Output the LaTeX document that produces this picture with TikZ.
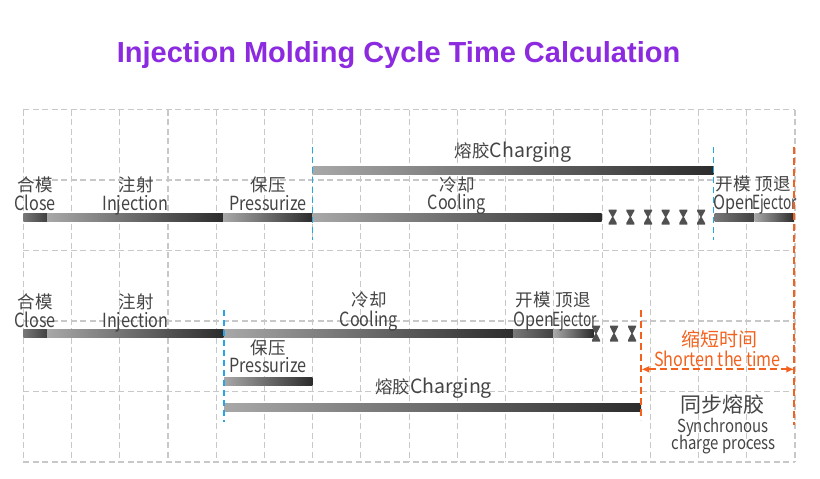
\documentclass[tikz,border=0pt]{standalone}
\usepackage{fontspec}
\setmainfont{Noto Sans CJK SC}
\newfontfamily\cjk{Noto Sans CJK SC}
\newfontfamily\labelfont[FakeStretch=0.83]{Noto Sans CJK SC}
\newfontfamily\tightfont[FakeStretch=0.7]{Noto Sans CJK SC}
\newfontfamily\titlefont{Liberation Sans}
\usetikzlibrary{arrows.meta,positioning}

\definecolor{titlepurple}{RGB}{140,42,224}
\definecolor{gridgray}{RGB}{200,200,200}
\definecolor{labelgray}{RGB}{68,68,68}
\definecolor{markblue}{RGB}{38,166,226}
\definecolor{markorange}{RGB}{242,98,30}
\definecolor{barlight}{RGB}{168,168,168}
\definecolor{bardark}{RGB}{44,44,44}
\definecolor{barmid}{RGB}{120,120,120}
\definecolor{hourgray}{RGB}{80,80,80}

\tikzset{
  gridline/.style={gridgray, line width=1.1pt, dash pattern=on 6pt off 3.5pt},
  stage/.style={left color=barlight, right color=bardark},
  shortstage/.style={left color=barmid, right color=bardark!90},
  bluemark/.style={markblue, line width=1.6pt, dash pattern=on 6pt off 4pt},
  orangemark/.style={markorange, line width=2pt, dash pattern=on 7pt off 4pt},
  zh/.style={font=\cjk\fontsize{17.5}{17.5}\selectfont, text=labelgray, inner sep=0pt, anchor=base},
  en/.style={font=\labelfont\fontsize{19.5}{19.5}\selectfont, text=labelgray, inner sep=0pt, anchor=base},
  entight/.style={en, font=\tightfont\fontsize{19.5}{19.5}\selectfont},
  hourglass/.style={fill=hourgray}
}

\begin{document}
\begin{tikzpicture}[x=1pt,y=-1pt]
  \useasboundingbox (0,0) rectangle (820,479);

  % title
  \node[font=\titlefont\bfseries\fontsize{29}{29}\selectfont, text=titlepurple, anchor=base]
    (title) at (398.5,62.7) {Injection Molding Cycle Time Calculation};

  % dashed grid
  \foreach \i in {0,...,16}
    \draw[gridline] (23.3+48.23*\i,109.5) -- (23.3+48.23*\i,462);
  \foreach \j in {0,...,5}
    \draw[gridline] (23.3,109.5+70.5*\j) -- (795,109.5+70.5*\j);

  % --- conventional cycle ---
  \shade[shortstage] (23.3,213) rectangle (47,221);
  \shade[stage] (47,213) rectangle (223.3,221);
  \shade[stage] (223.3,213) rectangle (312.5,221);
  \shade[stage] (312.5,213) rectangle (601.7,221);
  \shade[stage] (312.5,166.5) rectangle (713.5,174.5);
  \shade[shortstage] (714.5,213) rectangle (754,221);
  \shade[stage] (754.5,213) rectangle (794,221);
  \foreach \hx in {612.7,630.3,648,665.7,683.3,701}
    \fill[hourglass] (\hx-4,209.5) -- (\hx+4,209.5) -- (\hx+4,211) -- (\hx+0.6,217)
      -- (\hx+4,223) -- (\hx+4,224.5) -- (\hx-4,224.5) -- (\hx-4,223)
      -- (\hx-0.6,217) -- (\hx-4,211) -- cycle;

  \node[zh] (close1zh) at (35,191.5) {合模};
  \node[en] (close1) at (35,210) {Close};
  \node[zh] (inject1zh) at (136,191.5) {注射};
  \node[en] (inject1) at (135.5,210) {Injection};
  \node[zh] (press1zh) at (268,191.5) {保压};
  \node[en] (press1) at (268,210) {Pressurize};
  \node[zh] (cool1zh) at (457,191) {冷却};
  \node[en] (cool1) at (456.7,209.5) {Cooling};
  \node[en, font=\cjk\fontsize{19.5}{19.5}\selectfont] (charge1) at (513.3,157.3) {{\fontsize{17.5}{17.5}\selectfont 熔胶}Charging};
  \node[zh] (open1zh) at (733.3,190.8) {开模};
  \node[en] (open1) at (733.5,209.5) {Open};
  \node[zh] (eject1zh) at (773.3,190.8) {顶退};
  \node[entight] (eject1) at (774.5,209.5) {Ejector};

  % --- synchronous cycle ---
  \shade[shortstage] (23.3,329) rectangle (47,337.5);
  \shade[stage] (47,329) rectangle (223.5,337.5);
  \shade[stage] (224,329) rectangle (513.3,337.5);
  \shade[shortstage] (513.3,329) rectangle (553.3,337.5);
  \shade[stage] (553.7,329) rectangle (593.3,337.5);
  \shade[stage] (224,377) rectangle (312.3,385.5);
  \shade[stage] (224,403) rectangle (641,411.5);
  \foreach \hx in {596,614,632}
    \fill[hourglass] (\hx-4,325.5) -- (\hx+4,325.5) -- (\hx+4,327) -- (\hx+0.6,333.5)
      -- (\hx+4,340) -- (\hx+4,341.5) -- (\hx-4,341.5) -- (\hx-4,340)
      -- (\hx-0.6,333.5) -- (\hx-4,327) -- cycle;

  \node[zh] (close2zh) at (35,308.5) {合模};
  \node[en] (close2) at (35,327) {Close};
  \node[zh] (inject2zh) at (136,308.5) {注射};
  \node[en] (inject2) at (135.5,327) {Injection};
  \node[zh] (cool2zh) at (369,306.5) {冷却};
  \node[en] (cool2) at (368.8,326) {Cooling};
  \node[zh] (open2zh) at (533.3,306.5) {开模};
  \node[en] (open2) at (533.5,326) {Open};
  \node[zh] (eject2zh) at (573,306.5) {顶退};
  \node[entight] (eject2) at (574.5,326) {Ejector};
  \node[zh] (press2zh) at (268,354) {保压};
  \node[en] (press2) at (268,372.5) {Pressurize};
  \node[en, font=\cjk\fontsize{19.5}{19.5}\selectfont] (charge2) at (433.5,393.3) {{\fontsize{17.5}{17.5}\selectfont 熔胶}Charging};

  \node[zh, text=markorange, font=\cjk\fontsize{19}{19}\selectfont] (shortzh) at (719,346) {缩短时间};
  \node[en, text=markorange] (short) at (717.5,366) {Shorten the time};
  \node[zh, font=\cjk\fontsize{21}{21}\selectfont] (synczh) at (722.5,412.5) {同步熔胶};
  \node[en, font=\labelfont\fontsize{18}{18}\selectfont] (sync) at (723,432.5) {Synchronous};
  \node[en, font=\labelfont\fontsize{18}{18}\selectfont] (syncb) at (723.8,449.5) {charge process};

  % phase markers
  \coordinate (b1top) at (312.5,146.7);  \coordinate (b1bot) at (312.5,240);
  \coordinate (b2top) at (713.5,146.7);  \coordinate (b2bot) at (713.5,240);
  \coordinate (b3top) at (223.7,310);    \coordinate (b3bot) at (223.7,421.7);
  \coordinate (o1top) at (794.3,146.7);  \coordinate (o1bot) at (794.3,425);
  \coordinate (o2top) at (641.3,310);    \coordinate (o2bot) at (641.3,420);
  \draw[bluemark] (b1top) -- (b1bot);
  \draw[bluemark] (b2top) -- (b2bot);
  \draw[bluemark] (b3top) -- (b3bot);
  \draw[orangemark] (o1top) -- (o1bot);
  \draw[orangemark] (o2top) -- (o2bot);

  \coordinate (shortL) at (641.3,369.3);
  \coordinate (shortR) at (794.3,369.3);
  \draw[orangemark, line width=1.8pt, {Latex[length=8pt,width=7pt]}-{Latex[length=8pt,width=7pt]}]
    (shortL) -- (shortR);
\end{tikzpicture}
\end{document}
